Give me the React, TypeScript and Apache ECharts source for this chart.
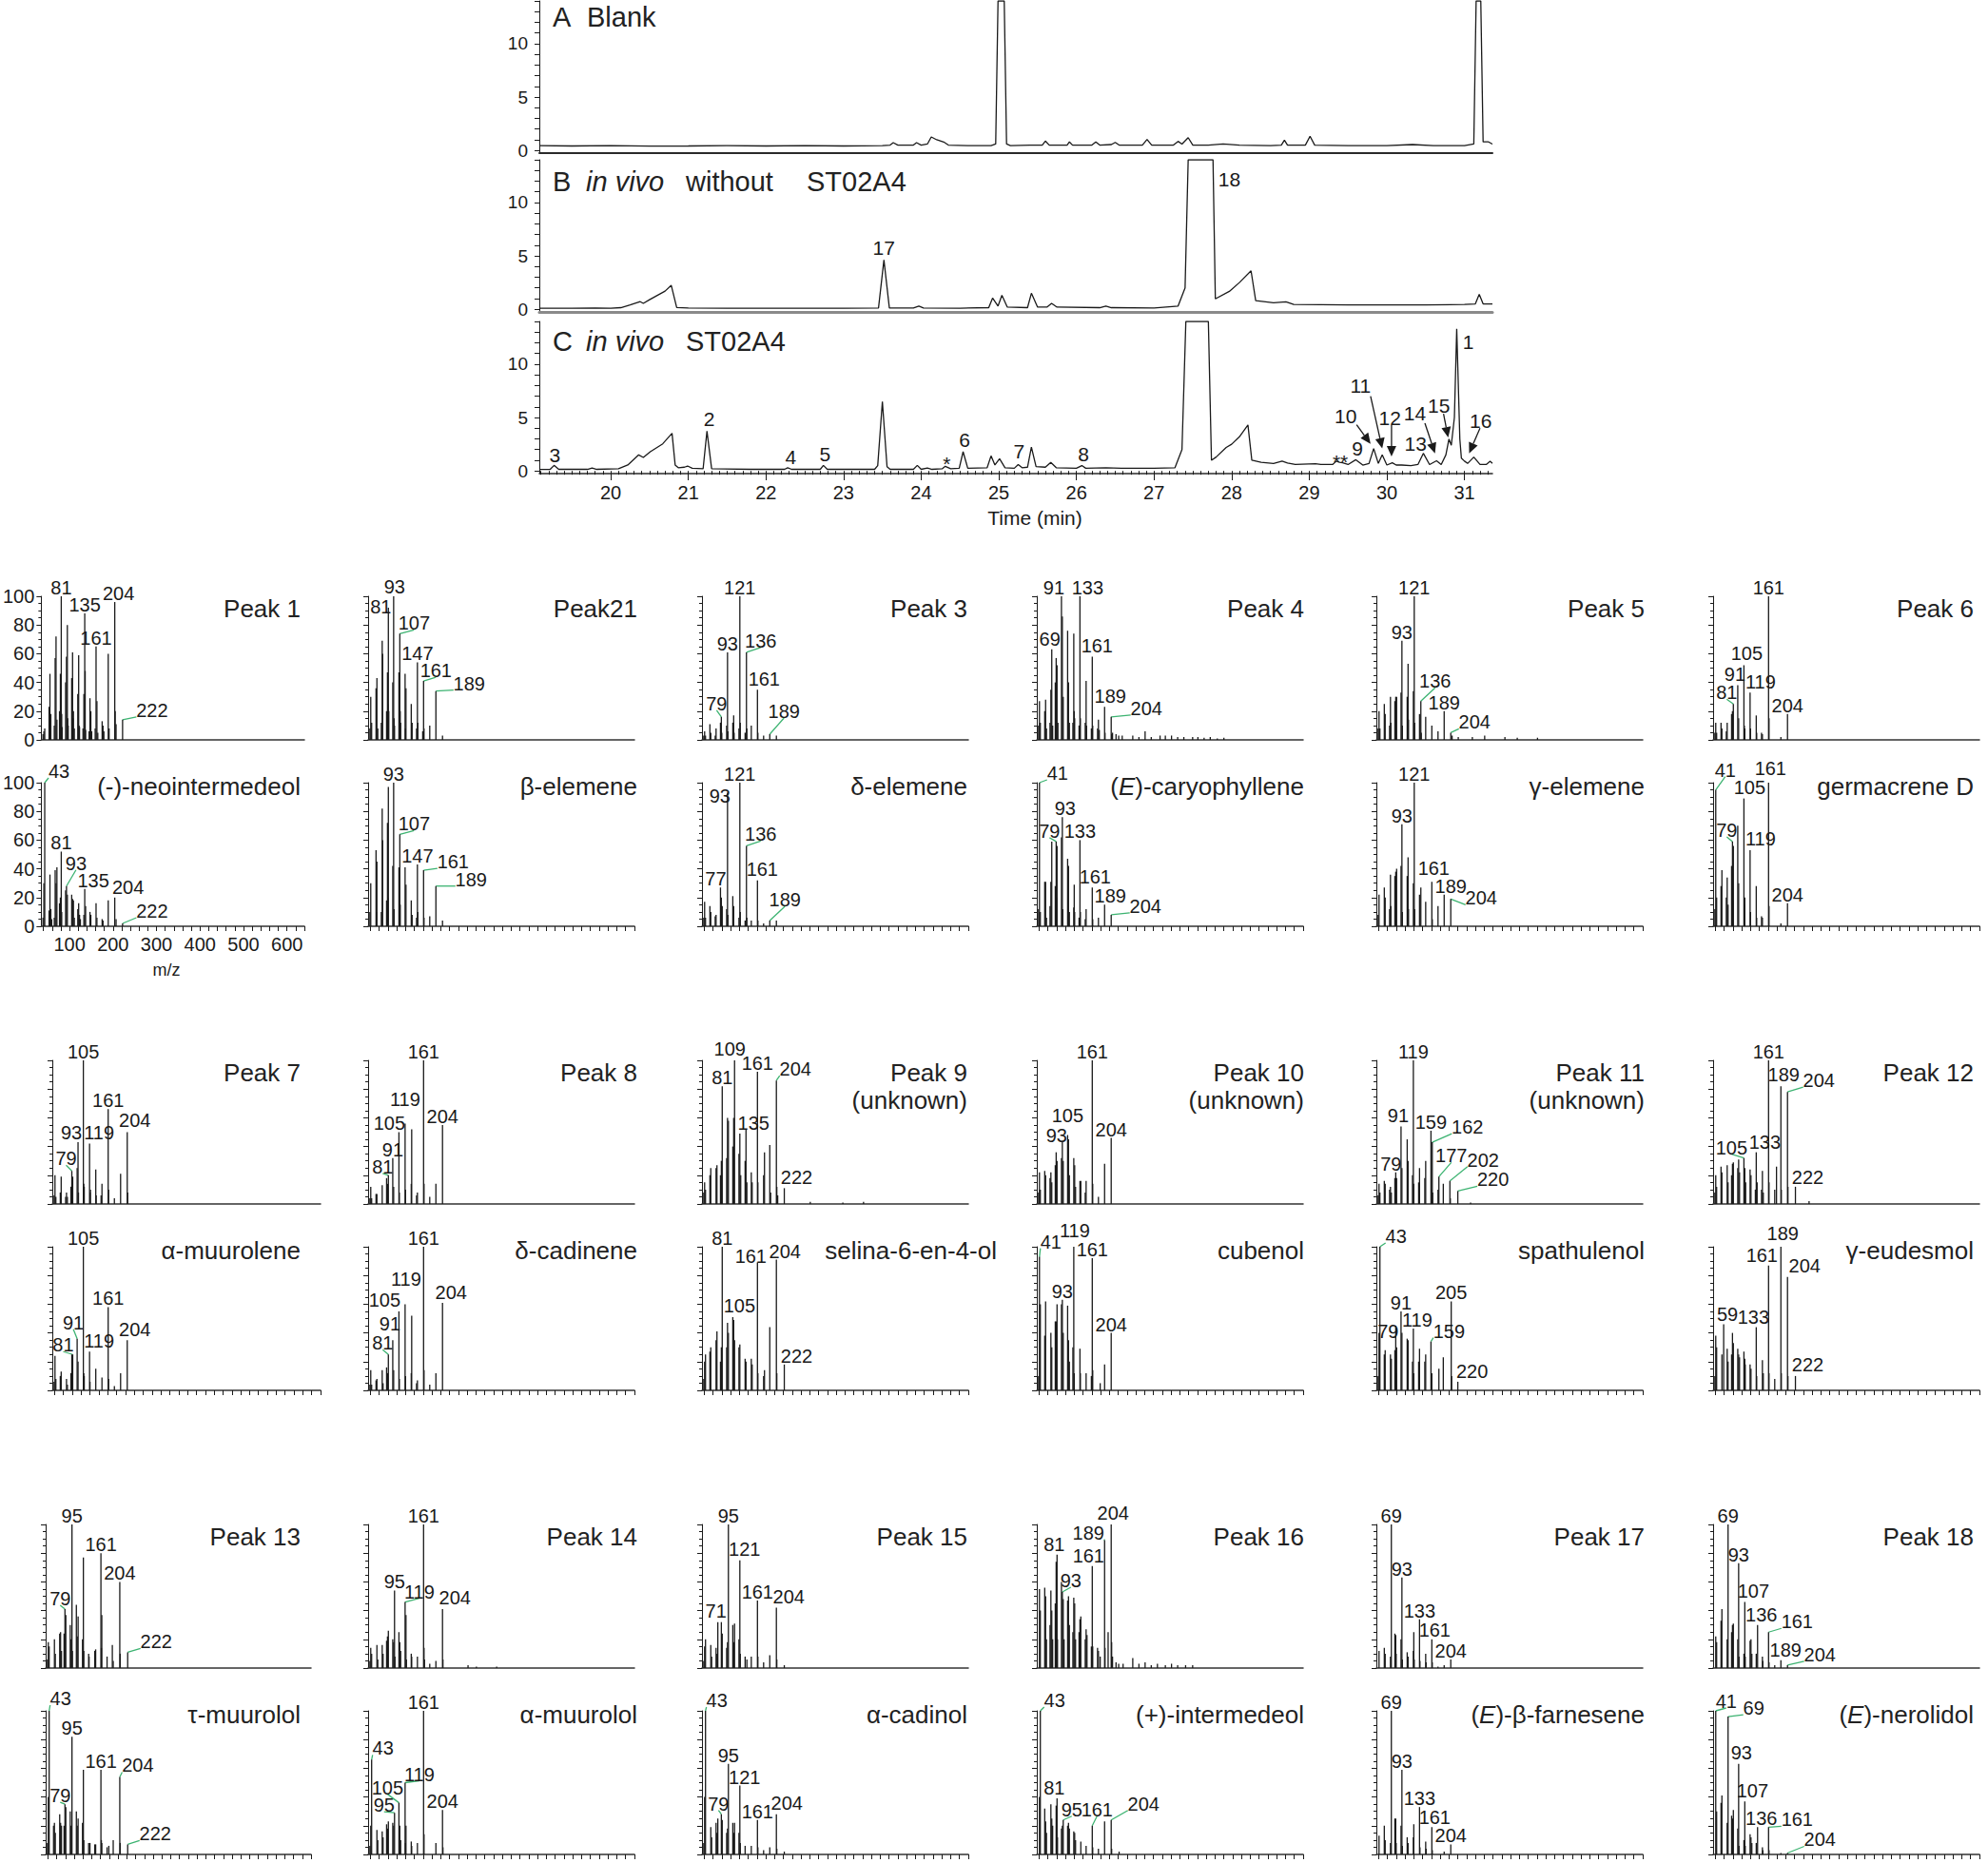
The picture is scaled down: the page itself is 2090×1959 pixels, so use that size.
import React, { useEffect, useRef } from "react";
import * as echarts from "echarts";

const FONT = '"Liberation Sans", Arial, Helvetica, sans-serif';
const INK = "#1a1a1a";
const LEADER = "#3cb371";

// ================= Chromatograms: [time (min), abundance] =================
const traceBlank = [
  [19.08, 0.45], [19.5, 0.42], [20, 0.45], [20.5, 0.4], [21, 0.42], [21.5, 0.45], [22, 0.42], [22.5, 0.45],
  [23, 0.42], [23.5, 0.45], [23.6, 0.5], [23.64, 0.73], [23.7, 0.5], [23.9, 0.5], [23.94, 0.73], [24.0, 0.5],
  [24.08, 0.6], [24.13, 1.26], [24.2, 1.0], [24.29, 0.79], [24.35, 0.5], [24.6, 0.45], [24.9, 0.45], [24.96, 0.6],
  [24.99, 14], [25.07, 14], [25.1, 0.6], [25.15, 0.45], [25.4, 0.5], [25.56, 0.5], [25.6, 0.88], [25.65, 0.5],
  [25.88, 0.5], [25.91, 0.8], [25.95, 0.5], [26.2, 0.5], [26.25, 0.8], [26.3, 0.5], [26.45, 0.55], [26.5, 0.75],
  [26.55, 0.5], [26.85, 0.5], [26.91, 1.03], [26.97, 0.5], [27.25, 0.5], [27.31, 0.85], [27.36, 0.6], [27.44, 1.2],
  [27.5, 0.5], [27.7, 0.5], [27.89, 0.6], [28.1, 0.5], [28.5, 0.45], [28.64, 0.5], [28.68, 0.97], [28.72, 0.5],
  [28.95, 0.5], [29.01, 1.33], [29.07, 0.5], [29.5, 0.45], [30, 0.45], [30.33, 0.55], [30.6, 0.45], [31.0, 0.45],
  [31.12, 0.6], [31.15, 14], [31.21, 14], [31.24, 0.8], [31.31, 0.8], [31.36, 0.6],
];
const traceWithoutST02A4 = [
  [19.08, 0.1], [19.5, 0.1], [19.8, 0.12], [20.0, 0.1], [20.13, 0.15], [20.25, 0.4], [20.38, 0.71], [20.42, 0.55],
  [20.5, 0.9], [20.6, 1.3], [20.7, 1.7], [20.78, 2.24], [20.85, 0.17], [21, 0.12], [21.5, 0.1], [22, 0.1],
  [22.5, 0.1], [23, 0.1], [23.45, 0.12], [23.52, 4.62], [23.59, 0.12], [23.9, 0.12], [23.97, 0.3], [24.03, 0.12],
  [24.5, 0.1], [24.87, 0.15], [24.92, 1.05], [24.99, 0.3], [25.04, 1.3], [25.11, 0.2], [25.37, 0.15], [25.42, 1.5],
  [25.5, 0.2], [25.62, 0.2], [25.68, 0.55], [25.75, 0.2], [26.3, 0.15], [26.38, 0.3], [26.45, 0.15], [27.0, 0.12],
  [27.31, 0.3], [27.4, 2], [27.44, 14], [27.76, 14], [27.79, 0.97], [27.97, 1.67], [28.1, 2.5], [28.25, 3.6],
  [28.31, 0.8], [28.54, 0.6], [28.7, 0.7], [28.8, 0.45], [29.5, 0.4], [30, 0.4], [30.5, 0.4], [31.0, 0.45],
  [31.14, 0.5], [31.19, 1.4], [31.24, 0.5], [31.36, 0.5],
];
const traceST02A4 = [
  [19.08, 0.14], [19.22, 0.15], [19.27, 0.52], [19.33, 0.15], [19.7, 0.15], [19.76, 0.27], [19.82, 0.15], [20.1, 0.2],
  [20.22, 0.56], [20.36, 1.5], [20.42, 1.26], [20.51, 1.8], [20.67, 2.54], [20.79, 3.52], [20.83, 0.56], [20.87, 0.3],
  [20.95, 0.35], [20.99, 0.46], [21.05, 0.25], [21.19, 0.2], [21.24, 3.73], [21.3, 0.2], [21.8, 0.15], [22.24, 0.15],
  [22.28, 0.3], [22.33, 0.15], [22.7, 0.15], [22.74, 0.52], [22.79, 0.15], [23.4, 0.15], [23.44, 0.5], [23.5, 6.49],
  [23.56, 0.4], [23.6, 0.15], [23.9, 0.15], [23.95, 0.52], [24.0, 0.15], [24.08, 0.28], [24.14, 0.15], [24.27, 0.2],
  [24.31, 0.43], [24.38, 0.2], [24.49, 0.25], [24.54, 1.8], [24.6, 0.25], [24.73, 0.28], [24.85, 0.3], [24.9, 1.41],
  [24.95, 0.56], [25.01, 1.14], [25.08, 0.3], [25.2, 0.25], [25.25, 0.6], [25.3, 0.3], [25.37, 0.35], [25.42, 2.24],
  [25.48, 0.4], [25.6, 0.35], [25.67, 0.8], [25.74, 0.3], [26.0, 0.25], [26.07, 0.5], [26.12, 0.25], [26.38, 0.3],
  [26.58, 0.25], [27.0, 0.25], [27.27, 0.3], [27.36, 2], [27.41, 14], [27.7, 14], [27.74, 1.0], [27.8, 1.3],
  [27.93, 2.2], [28.0, 2.5], [28.1, 3.2], [28.21, 4.3], [28.26, 1.0], [28.38, 0.8], [28.54, 0.7], [28.65, 0.92],
  [28.72, 0.75], [28.82, 0.6], [29.08, 0.67], [29.15, 0.6], [29.3, 0.6], [29.35, 0.92], [29.39, 0.8], [29.43, 0.76],
  [29.5, 0.6], [29.6, 1.05], [29.69, 0.55], [29.77, 0.7], [29.83, 2.1], [29.89, 0.7], [29.94, 1.5], [30.0, 0.55],
  [30.07, 0.76], [30.12, 0.55], [30.19, 0.55], [30.31, 0.5], [30.4, 0.6], [30.47, 1.65], [30.55, 0.6], [30.64, 0.95],
  [30.7, 0.6], [30.76, 1.5], [30.8, 2.98], [30.83, 2.4], [30.87, 5], [30.9, 13.3], [30.94, 3], [30.96, 1.2],
  [31.0, 0.92], [31.04, 0.7], [31.12, 1.3], [31.2, 0.6], [31.28, 0.6], [31.33, 0.9], [31.36, 0.7],
];
const timeTickLabels = [20, 21, 22, 23, 24, 25, 26, 27, 28, 29, 30, 31];
const abundanceTicks = [0, 1, 2, 3, 4, 5, 6, 7, 8, 9, 10, 11, 12, 13, 14];
const abundanceTickLabels = [0, 5, 10];

const peakLabelPosB = [[23.52, 5.72], [27.97, 12.2]];
const peakLabelTextB = ["17", "18"];
const peakLabelPosC = [
  [19.28, 1.53], [21.27, 4.83], [22.32, 1.35], [22.76, 1.62], [24.33, 0.65], [24.56, 2.87], [25.26, 1.8],
  [26.09, 1.62], [29.4, 0.82], [29.62, 2.07], [29.47, 5.1], [29.66, 7.95], [30.04, 5.0], [30.37, 2.6],
  [30.36, 5.45], [30.67, 6.16], [31.05, 12.1], [31.21, 4.65],
];
const peakLabelTextC = ["3", "2", "4", "5", "*", "6", "7", "8", "**", "9", "10", "11", "12", "13", "14", "15", "1", "16"];
// arrows: [from time, from abundance, tip time, tip abundance]
const arrowsC = [
  [29.61, 4.32, 29.79, 2.54], [29.79, 6.99, 29.94, 2.1], [30.06, 4.32, 30.06, 1.35],
  [30.49, 4.47, 30.62, 1.65], [30.73, 5.36, 30.79, 3.13], [31.2, 4.0, 31.06, 1.65],
];

// ================= Mass spectra: [m/z, relative intensity] =================
const mzTicks = [40, 60, 80, 100, 120, 140, 160, 180, 200, 220, 240, 260, 280, 300, 320, 340, 360, 380, 400, 420, 440, 460, 480, 500, 520, 540, 560, 580, 600, 620, 640];
const mzTickLabels = [100, 200, 300, 400, 500, 600];
const intensityTickLabels = [0, 20, 40, 60, 80, 100];

const peak1 = [[39, 4], [41, 6], [43, 8], [53, 23], [55, 46], [57, 18], [65, 10], [67, 57], [69, 72], [71, 14], [77, 20], [79, 46], [81, 100], [82, 18], [83, 9], [91, 40], [93, 58], [95, 80], [96, 15], [97, 10], [105, 43], [107, 61], [108, 15], [109, 20], [111, 8], [119, 32], [121, 59], [122, 10], [123, 9], [131, 8], [133, 32], [135, 88], [136, 48], [137, 7], [145, 6], [147, 29], [149, 20], [151, 6], [159, 8], [161, 65], [163, 27], [165, 5], [175, 13], [177, 10], [179, 6], [189, 60], [191, 8], [204, 96], [205, 20], [207, 11], [222, 14]];
const peak1Labels = [81, 135, 161, 204, 222];
const neointermedeol = [[39, 6], [41, 30], [43, 100], [53, 11], [55, 36], [57, 12], [59, 5], [65, 6], [67, 39], [69, 30], [71, 41], [77, 16], [79, 20], [81, 52], [82, 10], [91, 25], [93, 28], [95, 22], [105, 22], [107, 19], [109, 18], [111, 6], [119, 12], [121, 16], [123, 8], [125, 5], [133, 8], [135, 26], [137, 14], [147, 10], [149, 8], [161, 16], [163, 6], [175, 5], [177, 4], [189, 18], [204, 20], [207, 5], [222, 2]];
const neointermedeolLabels = [43, 81, 93, 135, 204, 222];
const peak21 = [[39, 8], [41, 30], [43, 12], [53, 36], [55, 43], [57, 8], [65, 12], [67, 69], [68, 60], [77, 20], [79, 47], [80, 25], [81, 92], [82, 20], [91, 40], [93, 100], [94, 15], [95, 10], [105, 47], [107, 74], [108, 20], [109, 12], [119, 46], [120, 8], [121, 36], [133, 25], [135, 12], [145, 8], [147, 54], [148, 12], [159, 6], [161, 41], [162, 8], [175, 10], [189, 34], [204, 3]];
const peak21Labels = [81, 93, 107, 147, 161, 189];
const betaElemene = [[39, 10], [41, 30], [53, 53], [54, 10], [55, 45], [65, 10], [67, 82], [68, 60], [77, 18], [79, 72], [80, 20], [81, 97], [91, 42], [93, 100], [94, 12], [105, 41], [107, 64], [108, 15], [119, 41], [121, 29], [133, 18], [135, 8], [145, 6], [147, 43], [148, 10], [161, 39], [162, 6], [175, 7], [189, 28], [204, 4]];
const betaElemeneLabels = [93, 107, 147, 161, 189];
const peak3 = [[39, 3], [41, 6], [43, 3], [53, 11], [55, 5], [65, 3], [67, 8], [77, 12], [79, 16], [80, 5], [91, 10], [93, 61], [94, 6], [105, 12], [107, 17], [108, 5], [119, 8], [121, 100], [122, 12], [133, 5], [136, 61], [137, 8], [147, 10], [161, 35], [162, 5], [175, 3], [189, 4], [204, 3]];
const peak3Labels = [79, 93, 121, 136, 161, 189];
const deltaElemene = [[39, 6], [41, 17], [43, 6], [53, 14], [55, 10], [65, 7], [67, 8], [77, 27], [79, 20], [81, 14], [91, 12], [93, 93], [94, 8], [105, 21], [107, 14], [119, 6], [121, 100], [122, 10], [133, 4], [136, 56], [137, 6], [147, 4], [161, 32], [162, 4], [175, 2], [189, 4], [204, 4]];
const deltaElemeneLabels = [77, 93, 121, 136, 161, 189];
const peak4 = [[39, 10], [41, 27], [43, 12], [53, 20], [55, 28], [57, 8], [65, 12], [67, 35], [69, 63], [71, 10], [77, 40], [79, 57], [81, 52], [83, 12], [91, 100], [93, 86], [95, 30], [105, 76], [107, 40], [109, 12], [117, 12], [119, 74], [120, 20], [121, 15], [131, 10], [133, 100], [134, 15], [145, 12], [147, 41], [148, 10], [159, 8], [161, 58], [162, 10], [173, 8], [175, 14], [177, 7], [189, 23], [190, 5], [204, 16], [205, 4], [207, 5], [215, 4], [221, 3], [229, 3], [253, 3], [267, 2], [281, 6], [295, 2], [315, 3], [327, 3], [341, 3], [355, 2], [369, 2], [389, 2], [401, 2], [415, 1.5], [429, 2], [445, 1], [460, 1.5]];
const peak4Labels = [69, 91, 133, 161, 189, 204];
const caryophyllene = [[39, 12], [41, 100], [43, 10], [53, 31], [55, 31], [57, 6], [65, 14], [67, 31], [69, 59], [77, 28], [79, 59], [80, 20], [81, 56], [91, 62], [93, 76], [94, 12], [105, 47], [107, 42], [109, 10], [119, 13], [120, 29], [121, 10], [131, 6], [133, 60], [134, 10], [145, 5], [147, 12], [161, 27], [162, 5], [175, 6], [189, 15], [204, 8]];
const caryophylleneLabels = [41, 79, 93, 133, 161, 189, 204];
const peak5 = [[39, 8], [41, 20], [43, 8], [53, 25], [55, 18], [65, 10], [67, 30], [68, 12], [77, 27], [79, 30], [81, 30], [91, 33], [93, 69], [94, 10], [105, 30], [107, 53], [108, 14], [119, 34], [121, 100], [122, 12], [133, 18], [136, 27], [137, 5], [147, 16], [161, 10], [175, 6], [189, 20], [204, 5], [207, 3], [221, 2], [253, 2], [281, 3], [327, 2], [355, 1.5], [401, 1.5]];
const peak5Labels = [93, 121, 136, 189, 204];
const gammaElemene = [[39, 8], [41, 22], [53, 27], [55, 20], [65, 12], [67, 36], [68, 14], [77, 35], [79, 38], [81, 40], [91, 42], [93, 71], [94, 10], [105, 35], [107, 48], [108, 12], [119, 30], [121, 100], [122, 12], [133, 22], [136, 27], [147, 17], [161, 31], [162, 5], [175, 14], [189, 22], [204, 19]];
const gammaElemeneLabels = [93, 121, 161, 189, 204];
const peak6 = [[39, 5], [41, 12], [43, 5], [53, 12], [55, 8], [65, 6], [67, 12], [77, 18], [79, 20], [81, 25], [91, 38], [93, 15], [105, 52], [106, 10], [107, 8], [119, 33], [120, 8], [133, 17], [134, 5], [145, 5], [147, 4], [161, 100], [162, 15], [189, 2], [204, 18]];
const peak6Labels = [81, 91, 105, 119, 161, 204];
const germacreneD = [[39, 12], [41, 95], [43, 20], [53, 28], [55, 39], [65, 20], [67, 34], [69, 15], [77, 42], [79, 59], [80, 18], [81, 56], [91, 70], [93, 30], [105, 89], [106, 15], [107, 20], [119, 53], [120, 10], [133, 28], [134, 6], [145, 7], [147, 6], [161, 100], [162, 14], [189, 2], [204, 16]];
const germacreneDLabels = [41, 79, 105, 119, 161, 204];

const peak7 = [[39, 6], [41, 20], [43, 5], [53, 8], [55, 19], [65, 5], [67, 8], [69, 5], [77, 12], [79, 23], [81, 19], [91, 25], [93, 43], [94, 8], [105, 100], [106, 14], [107, 12], [119, 42], [120, 8], [121, 10], [133, 24], [134, 6], [145, 6], [147, 14], [161, 66], [162, 10], [175, 4], [189, 21], [204, 50], [205, 8]];
const peak7Labels = [79, 93, 105, 119, 161, 204];
const alphaMuurolene = [[39, 6], [41, 24], [43, 8], [53, 10], [55, 13], [67, 8], [69, 4], [77, 12], [79, 25], [81, 25], [91, 36], [93, 20], [105, 100], [106, 12], [107, 10], [119, 27], [120, 6], [133, 15], [147, 9], [161, 58], [162, 8], [175, 3], [189, 12], [204, 35]];
const alphaMuuroleneLabels = [81, 91, 105, 119, 161, 204];
const peak8 = [[39, 4], [41, 12], [43, 4], [53, 7], [55, 7], [67, 13], [77, 18], [79, 14], [81, 20], [91, 32], [93, 12], [105, 50], [106, 8], [119, 56], [120, 10], [133, 14], [134, 52], [145, 6], [147, 8], [161, 100], [162, 14], [175, 5], [189, 14], [204, 55]];
const peak8Labels = [81, 91, 105, 119, 161, 204];
const deltaCadinene = [[39, 4], [41, 14], [43, 4], [53, 7], [55, 8], [67, 14], [69, 5], [77, 16], [79, 12], [81, 25], [91, 35], [93, 14], [105, 55], [106, 8], [119, 60], [120, 10], [133, 12], [134, 52], [145, 5], [147, 7], [161, 100], [162, 14], [175, 4], [189, 12], [204, 61]];
const deltaCadineneLabels = [81, 91, 105, 119, 161, 204];
const peak9 = [[39, 8], [41, 15], [43, 10], [53, 20], [55, 25], [67, 25], [69, 27], [77, 20], [79, 30], [81, 82], [91, 32], [93, 60], [95, 58], [105, 40], [107, 60], [109, 100], [119, 35], [121, 49], [123, 20], [133, 30], [135, 52], [137, 15], [147, 22], [149, 15], [161, 92], [162, 15], [175, 20], [177, 36], [189, 41], [191, 8], [204, 86], [205, 12], [207, 6], [222, 11], [281, 1.5], [355, 1], [402, 1.5]];
const peak9Labels = [81, 109, 135, 161, 204, 222];
const selinaenol = [[39, 8], [41, 20], [43, 25], [53, 27], [55, 30], [67, 35], [69, 41], [77, 20], [79, 30], [81, 100], [91, 30], [93, 47], [95, 40], [105, 51], [107, 49], [109, 35], [119, 30], [121, 32], [133, 22], [135, 20], [147, 22], [149, 18], [161, 89], [162, 12], [175, 10], [177, 14], [189, 44], [204, 91], [205, 12], [222, 18]];
const selinaenolLabels = [81, 105, 161, 204, 222];
const peak10 = [[39, 8], [41, 22], [43, 10], [53, 23], [55, 20], [65, 18], [67, 22], [69, 15], [77, 27], [79, 36], [81, 30], [91, 32], [93, 43], [95, 30], [105, 48], [107, 45], [109, 20], [119, 32], [121, 27], [123, 12], [133, 16], [135, 16], [145, 8], [147, 16], [161, 100], [162, 14], [175, 5], [189, 28], [204, 46]];
const peak10Labels = [93, 105, 161, 204];
const cubenol = [[39, 10], [41, 93], [43, 60], [53, 38], [55, 62], [67, 40], [69, 30], [77, 48], [79, 48], [81, 60], [91, 60], [93, 63], [95, 40], [105, 59], [107, 35], [109, 20], [117, 30], [119, 100], [120, 12], [133, 29], [134, 12], [147, 12], [159, 10], [161, 92], [162, 14], [179, 5], [189, 18], [204, 40]];
const cubenolLabels = [41, 93, 119, 161, 204];
const peak11 = [[39, 6], [41, 14], [43, 8], [53, 16], [55, 14], [65, 10], [67, 12], [69, 8], [77, 18], [79, 22], [81, 18], [91, 54], [93, 25], [105, 45], [107, 30], [117, 20], [119, 100], [120, 14], [131, 15], [133, 25], [145, 18], [147, 30], [159, 51], [160, 10], [162, 43], [163, 8], [175, 10], [177, 19], [187, 14], [202, 16], [203, 4], [220, 9], [249, 1]];
const peak11Labels = [79, 91, 119, 159, 162, 177, 202, 220];
const spathulenol = [[39, 10], [41, 40], [43, 100], [53, 25], [55, 28], [67, 25], [69, 22], [77, 28], [79, 45], [80, 12], [81, 30], [91, 55], [93, 40], [105, 36], [107, 35], [117, 20], [119, 43], [120, 12], [131, 20], [133, 29], [145, 20], [147, 25], [159, 34], [161, 12], [177, 15], [187, 23], [205, 62], [206, 10], [220, 6]];
const spathulenolLabels = [43, 79, 91, 119, 159, 205, 220];
const peak12 = [[39, 8], [41, 20], [43, 12], [53, 26], [55, 22], [67, 27], [69, 15], [77, 20], [79, 28], [81, 29], [91, 25], [93, 31], [95, 22], [105, 32], [107, 25], [109, 15], [119, 24], [121, 20], [131, 10], [133, 36], [135, 15], [145, 10], [147, 23], [149, 8], [161, 100], [162, 15], [175, 10], [179, 26], [189, 82], [190, 10], [204, 78], [205, 12], [222, 12], [253, 2]];
const peak12Labels = [105, 133, 161, 189, 204, 222];
const gammaEudesmol = [[39, 10], [41, 38], [43, 30], [55, 25], [59, 46], [67, 29], [69, 20], [77, 25], [79, 40], [81, 33], [91, 29], [93, 25], [95, 23], [105, 27], [107, 22], [108, 18], [119, 18], [121, 15], [133, 44], [134, 10], [147, 21], [149, 12], [161, 87], [162, 12], [175, 8], [189, 100], [190, 12], [204, 79], [205, 10], [222, 10]];
const gammaEudesmolLabels = [59, 133, 161, 189, 204, 222];

const peak13 = [[39, 6], [41, 18], [43, 15], [55, 20], [57, 10], [67, 24], [69, 25], [71, 12], [77, 24], [79, 41], [81, 37], [91, 30], [93, 20], [95, 100], [96, 12], [105, 44], [107, 22], [109, 36], [119, 20], [121, 77], [122, 12], [133, 10], [134, 8], [147, 12], [149, 13], [161, 80], [162, 14], [163, 37], [175, 8], [187, 16], [189, 5], [204, 60], [205, 10], [222, 11]];
const peak13Labels = [79, 95, 161, 204, 222];
const tauMuurolol = [[39, 8], [41, 40], [43, 100], [53, 20], [55, 22], [57, 15], [67, 28], [69, 22], [71, 20], [77, 20], [79, 35], [81, 33], [91, 30], [93, 20], [95, 82], [105, 30], [107, 20], [109, 25], [119, 22], [121, 59], [122, 10], [133, 8], [136, 8], [147, 7], [149, 7], [161, 59], [162, 10], [163, 8], [175, 5], [179, 6], [189, 10], [204, 54], [205, 8], [222, 7]];
const tauMuurololLabels = [43, 79, 95, 161, 204, 222];
const peak14 = [[39, 5], [41, 14], [43, 10], [55, 16], [57, 6], [67, 16], [69, 10], [77, 19], [79, 22], [81, 26], [91, 20], [93, 18], [95, 54], [96, 8], [105, 25], [107, 18], [109, 12], [119, 46], [121, 37], [122, 6], [133, 10], [134, 8], [147, 8], [161, 100], [162, 14], [163, 6], [175, 3], [189, 5], [204, 41], [205, 6], [262, 2], [281, 1], [327, 1]];
const peak14Labels = [95, 119, 161, 204];
const alphaMuurolol = [[39, 6], [41, 20], [43, 66], [55, 17], [57, 10], [67, 16], [69, 12], [77, 21], [79, 18], [81, 23], [91, 22], [93, 20], [95, 29], [105, 36], [107, 20], [109, 10], [119, 50], [120, 8], [121, 20], [133, 9], [134, 6], [147, 8], [161, 100], [162, 14], [189, 8], [204, 31], [205, 5]];
const alphaMuurololLabels = [43, 95, 105, 119, 161, 204];
const peak15 = [[39, 5], [41, 15], [43, 20], [55, 16], [57, 8], [67, 14], [69, 10], [71, 32], [79, 32], [81, 24], [91, 14], [93, 18], [95, 100], [105, 30], [107, 18], [109, 31], [119, 20], [121, 75], [122, 10], [133, 8], [137, 6], [147, 8], [161, 47], [162, 8], [175, 4], [189, 9], [204, 42], [205, 6], [222, 2]];
const peak15Labels = [71, 95, 121, 161, 204];
const alphaCadinol = [[39, 8], [41, 40], [43, 100], [55, 19], [57, 12], [67, 22], [69, 15], [71, 25], [79, 28], [81, 24], [91, 15], [93, 18], [95, 63], [105, 22], [107, 15], [109, 22], [119, 15], [121, 48], [122, 8], [133, 6], [147, 6], [161, 24], [162, 5], [175, 3], [189, 5], [204, 28], [205, 4], [222, 2]];
const alphaCadinolLabels = [43, 79, 95, 121, 161, 204];
const peak16 = [[41, 55], [43, 40], [53, 56], [55, 50], [57, 20], [65, 30], [67, 54], [69, 40], [71, 20], [77, 45], [79, 74], [81, 79], [82, 20], [91, 60], [93, 53], [95, 48], [97, 20], [105, 47], [107, 50], [109, 30], [117, 25], [119, 49], [121, 45], [123, 20], [131, 25], [133, 34], [135, 36], [145, 20], [147, 27], [149, 23], [159, 15], [161, 71], [162, 15], [173, 14], [175, 12], [179, 8], [189, 89], [190, 14], [197, 25], [204, 100], [205, 18], [207, 8], [215, 4], [221, 3], [231, 3], [253, 7], [267, 3], [281, 4], [295, 2], [309, 3], [327, 2], [341, 3], [355, 2], [373, 2], [389, 2]];
const peak16Labels = [81, 93, 161, 189, 204];
const intermedeol = [[41, 40], [43, 100], [53, 32], [55, 23], [57, 15], [67, 35], [69, 25], [71, 20], [79, 34], [81, 39], [82, 12], [91, 18], [93, 20], [95, 24], [105, 20], [107, 22], [109, 18], [119, 16], [121, 15], [123, 10], [135, 9], [147, 6], [161, 20], [162, 5], [175, 4], [189, 23], [204, 24], [205, 4], [222, 2]];
const intermedeolLabels = [43, 81, 95, 161, 204];
const peak17 = [[41, 12], [53, 14], [55, 10], [67, 8], [69, 100], [77, 24], [79, 23], [80, 10], [91, 20], [93, 63], [94, 6], [105, 11], [107, 8], [119, 12], [120, 25], [121, 6], [133, 34], [134, 5], [147, 10], [148, 4], [161, 20], [162, 4], [175, 1], [189, 2], [204, 6]];
const peak17Labels = [69, 93, 133, 161, 204];
const farnesene = [[41, 13], [53, 20], [55, 10], [67, 8], [69, 100], [77, 25], [79, 25], [80, 8], [91, 20], [93, 59], [94, 6], [105, 12], [107, 8], [119, 12], [120, 21], [133, 33], [134, 5], [147, 9], [148, 4], [161, 19], [162, 3], [189, 2], [204, 7]];
const farneseneLabels = [69, 93, 133, 161, 204];
const peak18 = [[41, 22], [43, 18], [53, 33], [55, 41], [67, 20], [69, 100], [77, 25], [79, 30], [81, 31], [91, 20], [93, 73], [94, 8], [105, 10], [107, 46], [108, 8], [119, 19], [121, 20], [123, 10], [133, 10], [136, 30], [147, 8], [148, 5], [161, 25], [162, 4], [175, 2], [189, 5.5], [204, 2]];
const peak18Labels = [69, 93, 107, 136, 161, 189, 204];
const nerolidol = [[41, 100], [43, 30], [53, 36], [55, 41], [67, 22], [69, 96], [77, 27], [79, 25], [81, 31], [91, 18], [93, 63], [94, 6], [105, 10], [107, 37], [108, 6], [119, 14], [121, 12], [123, 8], [133, 8], [136, 19], [147, 5], [148, 3], [161, 19], [162, 3], [189, 1], [204, 1]];
const nerolidolLabels = [41, 69, 93, 107, 136, 161, 204];

// ================= Layout (pixels) =================
const FIRST_COL = [[43, 277], [55, 282], [48, 279]];
const COL_LEFT = [387, 738, 1090, 1447, 1801];
const ROW_TOP = [627, 823, 1115, 1311, 1603, 1799];
const ROW_H = 151;
const TITLE_RIGHT = [316, 670, 1017, 1371, 1729, 2075];

// label displacement [dx, dy, leader] in px relative to the default spot above a peak
const NUDGES = {
  peak1: { 204: [4, 0, 0], 222: [31, -1, 1] },
  neointermedeol: { 43: [15, -3, 1], 93: [10, -15, 1], 135: [9, 0, 0], 204: [14, -2, 0], 222: [31, -4, 1] },
  peak21: { 81: [-8, 8, 0], 93: [1, -1, 0], 107: [15, -2, 1], 161: [13, -2, 1], 189: [35, 1, 1] },
  betaElemene: { 107: [15, -2, 1], 161: [31, 0, 1], 189: [37, 2, 1] },
  peak3: { 79: [-5, -5, 1], 136: [15, -3, 1], 161: [7, -2, 0], 189: [15, -15, 1] },
  deltaElemene: { 77: [-5, 0, 0], 93: [-8, 12, 0], 136: [15, -3, 1], 161: [5, -3, 0], 189: [16, -13, 1] },
  peak4: { 69: [-2, -2, 0], 91: [-8, 0, 0], 133: [8, 0, 0], 161: [5, -2, 0], 189: [6, -2, 0], 204: [37, 0, 1] },
  caryophyllene: { 41: [19, -1, 1], 79: [-7, -2, 1], 93: [3, 0, 0], 161: [3, -2, 0], 189: [6, 0, 0], 204: [36, 0, 1] },
  peak5: { 136: [15, -12, 1], 204: [25, -2, 1] },
  gammaElemene: { 161: [2, -5, 0], 189: [7, 0, 0], 204: [32, 8, 1] },
  peak6: { 81: [-7, -3, 1], 91: [-3, -3, 0], 105: [3, -3, 0], 119: [11, -2, 0] },
  germacreneD: { 41: [10, -12, 1], 79: [-6, -3, 1], 105: [6, -3, 0], 119: [11, -3, 0], 161: [2, -6, 0] },
  peak7: { 79: [-6, -4, 1], 93: [-7, -1, 0], 119: [10, -3, 0], 204: [8, -4, 0] },
  alphaMuurolene: { 81: [-10, -1, 1], 91: [-4, -8, 1], 119: [10, -2, 0], 204: [8, -2, 0] },
  peak8: { 81: [-6, 0, 1], 105: [-10, -1, 0], 119: [0, -16, 0] },
  deltaCadinene: { 81: [-6, -3, 1], 91: [-3, -8, 0], 105: [-15, -3, 0], 119: [1, -17, 0], 204: [9, -2, 0] },
  peak9: { 109: [-5, -3, 0], 135: [8, 3, 0], 204: [20, -3, 1], 222: [13, -2, 0] },
  selinaenol: { 105: [7, -3, 0], 161: [-7, 2, 0], 204: [9, 0, 0], 222: [13, 0, 0] },
  peak10: { 93: [-6, 2, 0], 105: [0, -12, 0] },
  cubenol: { 41: [12, -7, 1], 119: [1, -8, 0] },
  peak11: { 79: [-5, 0, 0], 91: [-3, -2, 0], 162: [37, -7, 1], 177: [13, -13, 1], 202: [35, -13, 1], 220: [37, -3, 1] },
  spathulenol: { 43: [17, -2, 1], 79: [-8, 15, 0], 119: [4, 0, 0], 159: [19, -2, 1], 220: [15, -2, 0] },
  peak12: { 105: [-13, -2, 1], 133: [9, -2, 0], 189: [3, -3, 0], 204: [33, -3, 1], 222: [13, -1, 0] },
  gammaEudesmol: { 59: [4, -2, 0], 133: [-3, -2, 0], 161: [-7, -2, 0], 189: [2, -5, 0], 204: [18, -3, 0], 222: [13, -3, 0] },
  peak13: { 79: [-5, -2, 1], 222: [30, -2, 1] },
  tauMuurolol: { 43: [12, -4, 1], 79: [-5, 0, 1], 204: [19, -3, 1], 222: [29, -2, 1] },
  peak14: { 119: [15, -2, 1], 204: [13, -3, 0] },
  alphaMuurolol: { 43: [12, -3, 1], 105: [-12, -7, 1], 95: [-11, 1, 1], 119: [15, 0, 1] },
  peak15: { 71: [-2, -3, 0], 121: [5, -3, 0], 204: [13, -3, 0] },
  alphaCadinol: { 43: [12, -2, 1], 121: [5, 0, 0], 79: [-3, -2, 1], 204: [11, -3, 0] },
  peak16: { 81: [-3, -2, 0], 93: [9, -3, 1], 161: [-4, -2, 0], 189: [-17, 1, 1], 204: [2, -3, 0] },
  intermedeol: { 43: [15, -2, 1], 81: [-3, -2, 0], 95: [9, -2, 1], 161: [5, -8, 1], 204: [34, -8, 1] },
  peak17: { 161: [3, -1, 0] },
  farnesene: { 161: [3, -1, 0] },
  peak18: { 107: [9, -3, 0], 136: [4, -2, 0], 161: [30, -2, 1], 189: [5, -2, 0], 204: [34, -2, 1] },
  nerolidol: { 41: [11, -1, 1], 69: [27, 0, 1], 93: [3, -3, 0], 107: [8, -2, 0], 136: [4, 0, 0], 161: [30, 1, 1], 204: [34, -5, 1] },
};

const SPECTRA = [
  [
    { key: "peak1", bars: peak1, labels: peak1Labels, title: "Peak 1" },
    { key: "peak21", bars: peak21, labels: peak21Labels, title: "Peak21" },
    { key: "peak3", bars: peak3, labels: peak3Labels, title: "Peak 3" },
    { key: "peak4", bars: peak4, labels: peak4Labels, title: "Peak 4" },
    { key: "peak5", bars: peak5, labels: peak5Labels, title: "Peak 5" },
    { key: "peak6", bars: peak6, labels: peak6Labels, title: "Peak 6" },
  ],
  [
    { key: "neointermedeol", bars: neointermedeol, labels: neointermedeolLabels, title: "(-)-neointermedeol" },
    { key: "betaElemene", bars: betaElemene, labels: betaElemeneLabels, title: "β-elemene" },
    { key: "deltaElemene", bars: deltaElemene, labels: deltaElemeneLabels, title: "δ-elemene" },
    { key: "caryophyllene", bars: caryophyllene, labels: caryophylleneLabels, title: "({i|E})-caryophyllene" },
    { key: "gammaElemene", bars: gammaElemene, labels: gammaElemeneLabels, title: "γ-elemene" },
    { key: "germacreneD", bars: germacreneD, labels: germacreneDLabels, title: "germacrene D" },
  ],
  [
    { key: "peak7", bars: peak7, labels: peak7Labels, title: "Peak 7" },
    { key: "peak8", bars: peak8, labels: peak8Labels, title: "Peak 8" },
    { key: "peak9", bars: peak9, labels: peak9Labels, title: "Peak 9\n(unknown)" },
    { key: "peak10", bars: peak10, labels: peak10Labels, title: "Peak 10\n(unknown)" },
    { key: "peak11", bars: peak11, labels: peak11Labels, title: "Peak 11\n(unknown)" },
    { key: "peak12", bars: peak12, labels: peak12Labels, title: "Peak 12" },
  ],
  [
    { key: "alphaMuurolene", bars: alphaMuurolene, labels: alphaMuuroleneLabels, title: "α-muurolene" },
    { key: "deltaCadinene", bars: deltaCadinene, labels: deltaCadineneLabels, title: "δ-cadinene" },
    { key: "selinaenol", bars: selinaenol, labels: selinaenolLabels, title: "selina-6-en-4-ol", right: 1048 },
    { key: "cubenol", bars: cubenol, labels: cubenolLabels, title: "cubenol" },
    { key: "spathulenol", bars: spathulenol, labels: spathulenolLabels, title: "spathulenol" },
    { key: "gammaEudesmol", bars: gammaEudesmol, labels: gammaEudesmolLabels, title: "γ-eudesmol" },
  ],
  [
    { key: "peak13", bars: peak13, labels: peak13Labels, title: "Peak 13" },
    { key: "peak14", bars: peak14, labels: peak14Labels, title: "Peak 14" },
    { key: "peak15", bars: peak15, labels: peak15Labels, title: "Peak 15" },
    { key: "peak16", bars: peak16, labels: peak16Labels, title: "Peak 16" },
    { key: "peak17", bars: peak17, labels: peak17Labels, title: "Peak 17" },
    { key: "peak18", bars: peak18, labels: peak18Labels, title: "Peak 18" },
  ],
  [
    { key: "tauMuurolol", bars: tauMuurolol, labels: tauMuurololLabels, title: "τ-muurolol" },
    { key: "alphaMuurolol", bars: alphaMuurolol, labels: alphaMuurololLabels, title: "α-muurolol" },
    { key: "alphaCadinol", bars: alphaCadinol, labels: alphaCadinolLabels, title: "α-cadinol" },
    { key: "intermedeol", bars: intermedeol, labels: intermedeolLabels, title: "(+)-intermedeol" },
    { key: "farnesene", bars: farnesene, labels: farneseneLabels, title: "({i|E})-β-farnesene" },
    { key: "nerolidol", bars: nerolidol, labels: nerolidolLabels, title: "({i|E})-nerolidol" },
  ],
];

function textLabelSeries(xi: number, yi: number, pos: number[][], texts: string[], size: number) {
  return {
    type: "custom",
    coordinateSystem: "cartesian2d",
    xAxisIndex: xi,
    yAxisIndex: yi,
    silent: true,
    clip: false,
    data: pos,
    renderItem: (params: any, api: any) => {
      const p = api.coord([api.value(0), api.value(1)]);
      return {
        type: "text",
        x: p[0],
        y: p[1],
        style: { text: texts[params.dataIndex], fontSize: size, fontFamily: FONT, fill: INK, align: "center", verticalAlign: "middle" },
      };
    },
  };
}

function buildOption() {
  const grid: any[] = [];
  const xAxis: any[] = [];
  const yAxis: any[] = [];
  const series: any[] = [];
  const graphic: any[] = [];

  // ---------- chromatograms ----------
  const chromTop = [1, 168, 338];
  const traces = [traceBlank, traceWithoutST02A4, traceST02A4];
  const minorTimeTicks: number[] = [];
  for (let k = 191; k <= 313; k++) minorTimeTicks.push(k / 10);
  traces.forEach((tr, i) => {
    grid.push({ left: 567, top: chromTop[i], width: 1002, height: 160 });
    const isC = i === 2;
    xAxis.push({
      type: "value", gridIndex: i, min: 19.08, max: 31.36, position: "bottom",
      axisLine: { show: true, onZero: false, lineStyle: { color: i === 1 ? "#8a8a8a" : "#2a2a2a", width: i === 1 ? 3 : i === 0 ? 2 : 1.5 } },
      axisTick: { show: isC, customValues: timeTickLabels, length: 7, lineStyle: { color: INK, width: 1 } },
      axisLabel: { show: isC, customValues: timeTickLabels, fontSize: 20, fontFamily: FONT, color: INK, margin: 10 },
      splitLine: { show: false },
    });
    yAxis.push({
      type: "value", gridIndex: i, min: -0.25, max: 14,
      axisLine: { show: true, onZero: false, lineStyle: { color: INK, width: 1 } },
      axisTick: { show: true, customValues: abundanceTicks, length: 5, lineStyle: { color: INK, width: 1 } },
      axisLabel: { show: true, customValues: abundanceTickLabels, fontSize: 19, fontFamily: FONT, color: INK, margin: 12 },
      splitLine: { show: false },
    });
    series.push({
      type: "line", xAxisIndex: i, yAxisIndex: i, data: tr, showSymbol: false, symbol: "none", silent: true,
      lineStyle: { color: INK, width: 1.3 },
    });
  });
  // minor time ticks on panel C
  xAxis.push({
    type: "value", gridIndex: 2, min: 19.08, max: 31.36, position: "bottom",
    axisLine: { show: false },
    axisTick: { show: true, customValues: minorTimeTicks, length: 4, lineStyle: { color: INK, width: 1 } },
    axisLabel: { show: false },
    splitLine: { show: false },
  });
  series.push(textLabelSeries(1, 1, peakLabelPosB, peakLabelTextB, 21));
  series.push(textLabelSeries(2, 2, peakLabelPosC, peakLabelTextC, 21));
  series.push({
    type: "custom", coordinateSystem: "cartesian2d", xAxisIndex: 2, yAxisIndex: 2, silent: true, clip: false,
    data: arrowsC,
    renderItem: (params: any, api: any) => {
      const a = api.coord([api.value(0), api.value(1)]);
      const b = api.coord([api.value(2), api.value(3)]);
      const dx = b[0] - a[0];
      const dy = b[1] - a[1];
      const L = Math.hypot(dx, dy) || 1;
      const ux = dx / L;
      const uy = dy / L;
      const head = 11;
      const half = 5;
      const bx = b[0] - ux * head;
      const by = b[1] - uy * head;
      return {
        type: "group",
        children: [
          { type: "line", shape: { x1: a[0], y1: a[1], x2: bx, y2: by }, style: { stroke: INK, lineWidth: 1.3 } },
          { type: "polygon", shape: { points: [[b[0], b[1]], [bx - uy * half, by + ux * half], [bx + uy * half, by - ux * half]] }, style: { fill: INK } },
        ],
      };
    },
  });

  // panel titles
  const titleFont = 29;
  const panelTexts = [
    { x: 581, y: 18, t: "A" }, { x: 617, y: 18, t: "Blank" },
    { x: 581, y: 191, t: "B" }, { x: 616, y: 191, t: "in vivo", it: true }, { x: 721, y: 191, t: "without" }, { x: 848, y: 191, t: "ST02A4" },
    { x: 581, y: 359, t: "C" }, { x: 616, y: 359, t: "in vivo", it: true }, { x: 721, y: 359, t: "ST02A4" },
  ];
  panelTexts.forEach((p) => {
    graphic.push({
      type: "text", x: p.x, y: p.y, silent: true,
      style: { text: p.t, fontSize: titleFont, fontFamily: FONT, fontStyle: p.it ? "italic" : "normal", fill: "#222", align: "left", verticalAlign: "middle" },
    });
  });
  graphic.push({
    type: "text", x: 1088, y: 544, silent: true,
    style: { text: "Time (min)", fontSize: 21, fontFamily: FONT, fill: INK, align: "center", verticalAlign: "middle" },
  });

  // ---------- mass spectra ----------
  SPECTRA.forEach((row, r) => {
    const g = Math.floor(r / 2);
    const isBottom = r % 2 === 1;
    row.forEach((sp: any, c) => {
      const left = c === 0 ? FIRST_COL[g][0] : COL_LEFT[c - 1];
      const width = c === 0 ? FIRST_COL[g][1] : 280;
      const gi = grid.length;
      grid.push({ left, top: ROW_TOP[r], width, height: ROW_H });
      const showY = g === 0 && c === 0;
      const showX = g === 0 && c === 0 && isBottom;
      xAxis.push({
        type: "value", gridIndex: gi, min: 35, max: 640, position: "bottom",
        axisLine: { show: true, onZero: false, lineStyle: { color: "#333", width: 1.5 } },
        axisTick: { show: isBottom, customValues: mzTicks, length: 5, lineStyle: { color: INK, width: 1 } },
        axisLabel: { show: showX, customValues: mzTickLabels, fontSize: 20, fontFamily: FONT, color: INK, margin: 9 },
        splitLine: { show: false },
      });
      yAxis.push({
        type: "value", gridIndex: gi, min: 0, max: 100, interval: 20,
        axisLine: { show: true, onZero: false, lineStyle: { color: INK, width: 1 } },
        axisTick: { show: true, length: 5, lineStyle: { color: INK, width: 1 } },
        minorTick: { show: true, splitNumber: 4, length: 3, lineStyle: { color: INK, width: 1 } },
        axisLabel: { show: showY, customValues: intensityTickLabels, fontSize: 20, fontFamily: FONT, color: INK, margin: 7 },
        splitLine: { show: false },
        minorSplitLine: { show: false },
      });
      const xi = xAxis.length - 1;
      const yi = yAxis.length - 1;
      series.push({
        type: "bar", xAxisIndex: xi, yAxisIndex: yi, data: sp.bars, barWidth: 1.3, silent: true,
        itemStyle: { color: INK },
      });
      const nudgeMap = (NUDGES as any)[sp.key] || {};
      const labelData = sp.labels.map((mz: number) => {
        const hit = sp.bars.find((b: number[]) => b[0] === mz);
        return [mz, hit ? hit[1] : 0];
      });
      series.push({
        type: "custom", coordinateSystem: "cartesian2d", xAxisIndex: xi, yAxisIndex: yi, silent: true, clip: false,
        data: labelData,
        renderItem: (params: any, api: any) => {
          const mz = api.value(0);
          const h = api.value(1);
          const p = api.coord([mz, h]);
          const nd = nudgeMap[mz] || [0, 0, 0];
          const txt = String(mz);
          const w = txt.length * 11;
          const cx = p[0] + nd[0];
          const base = p[1] - 2 + nd[1];
          const children: any[] = [];
          if (nd[2]) {
            let ex = cx;
            if (nd[0] > w / 2) ex = cx - w / 2;
            else if (nd[0] < -w / 2) ex = cx + w / 2;
            children.push({ type: "line", shape: { x1: p[0], y1: p[1], x2: ex, y2: base }, style: { stroke: LEADER, lineWidth: 1.3 } });
          }
          children.push({
            type: "text", x: cx, y: base - 7,
            style: { text: txt, fontSize: 20, fontFamily: FONT, fill: INK, align: "center", verticalAlign: "middle" },
          });
          return { type: "group", children };
        },
      });
      const right = sp.right || TITLE_RIGHT[c];
      graphic.push({
        type: "text", x: right, y: ROW_TOP[r] + (isBottom ? -10.5 : -1.5), silent: true,
        style: {
          text: sp.title, fontSize: 26, fontFamily: FONT, fill: "#222", align: "right", verticalAlign: "top", lineHeight: 29,
          rich: { i: { fontSize: 26, fontFamily: FONT, fontStyle: "italic", fill: "#222", lineHeight: 29 } },
        },
      });
    });
  });
  graphic.push({
    type: "text", x: 175, y: 1020, silent: true,
    style: { text: "m/z", fontSize: 18, fontFamily: FONT, fill: INK, align: "center", verticalAlign: "middle" },
  });

  return {
    animation: false,
    backgroundColor: "#ffffff",
    grid, xAxis, yAxis, series, graphic,
  };
}

export default function App() {
  const ref = useRef<HTMLDivElement>(null);
  useEffect(() => {
    document.body.style.margin = "0";
    const chart = echarts.init(ref.current as HTMLDivElement, null, { renderer: "svg" });
    chart.setOption(buildOption() as any);
    return () => chart.dispose();
  }, []);
  return <div ref={ref} style={{ width: 2090, height: 1959, background: "#fff" }} />;
}
